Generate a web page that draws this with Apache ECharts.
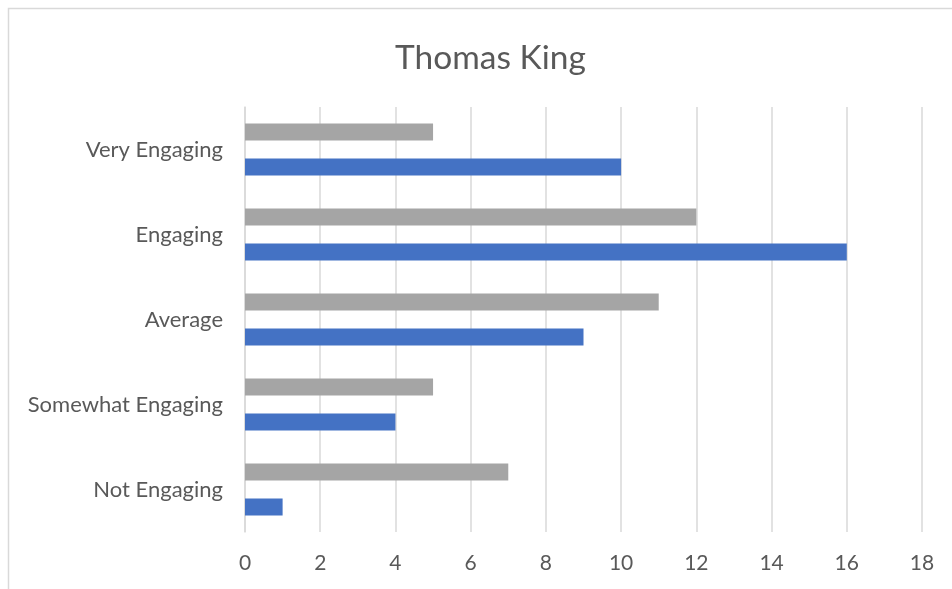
<!DOCTYPE html>
<html>
<head>
<meta charset="utf-8">
<script src="https://cdn.jsdelivr.net/npm/echarts@6/dist/echarts.min.js"></script>
<style>
  html, body { margin: 0; padding: 0; background: #fff; }
  #chart { width: 952px; height: 589px; }
</style>
</head>
<body>
<div id="chart"></div>
<script>
// categories listed bottom -> top
var categories = ['Not Engaging', 'Somewhat Engaging', 'Average', 'Engaging', 'Very Engaging'];
var blueValues = [1, 4, 9, 16, 10];
var grayValues = [7, 5, 11, 12, 5];
var tickMin = 0, tickMax = 18, tickStep = 2;

var chart = echarts.init(document.getElementById('chart'));
var textColor = '#595959';
var fontFamily = 'Lato, "Open Sans", sans-serif';

chart.setOption({
  animation: false,
  title: {
    text: 'Thomas King',
    left: 390,
    top: 36,
    textStyle: { color: textColor, fontSize: 33.5, fontWeight: 'normal', fontFamily: fontFamily }
  },
  graphic: [{
    type: 'rect',
    shape: { x: 8.5, y: 8.5, width: 1200, height: 1200 },
    style: { fill: 'none', stroke: '#d9d9d9', lineWidth: 1.5 },
    silent: true
  }],
  grid: { left: 245, right: 30, top: 107, bottom: 57 },
  xAxis: {
    type: 'value',
    min: tickMin,
    max: tickMax,
    interval: tickStep,
    axisLine: { show: false },
    axisTick: { show: false },
    splitLine: { lineStyle: { color: '#d9d9d9', width: 1.5 } },
    axisLabel: { color: textColor, fontSize: 21, fontFamily: fontFamily, margin: 21 }
  },
  yAxis: {
    type: 'category',
    data: categories,
    axisLine: { show: true, lineStyle: { color: '#d9d9d9', width: 1.5 } },
    axisTick: { show: false },
    axisLabel: { color: textColor, fontSize: 22, fontFamily: fontFamily, margin: 22 }
  },
  series: [
    {
      name: 'Gray',
      type: 'bar',
      data: grayValues,
      barWidth: 17,
      barGap: '106%',
      itemStyle: { color: '#a5a5a5' }
    },
    {
      name: 'Blue',
      type: 'bar',
      data: blueValues,
      barWidth: 17,
      barGap: '106%',
      itemStyle: { color: '#4472c4' }
    }
  ]
});
</script>
</body>
</html>
